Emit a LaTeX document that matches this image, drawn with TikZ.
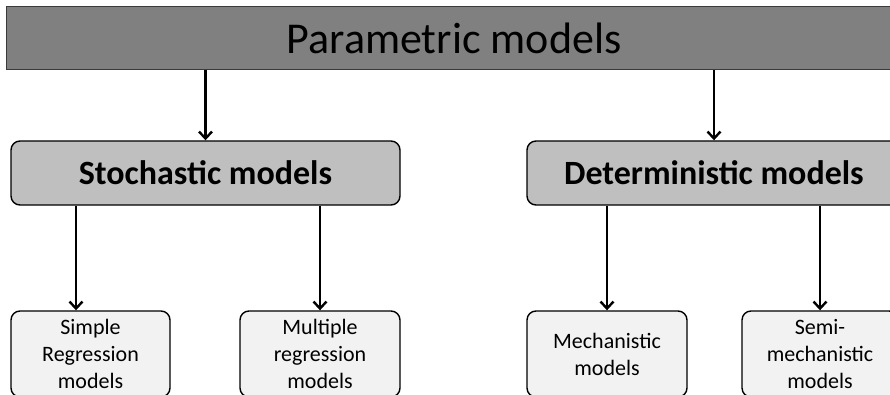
\documentclass[tikz,border=0pt]{standalone}
\usepackage{fontspec}
\setmainfont{Carlito}
\usepackage{xcolor}
\definecolor{topgray}{HTML}{808080}
\definecolor{midgray}{HTML}{BFBFBF}
\definecolor{leafgray}{HTML}{F2F2F2}
\definecolor{edgedark}{HTML}{3A3A3A}
\usepackage{tikz}
\usetikzlibrary{arrows.meta,calc}

\begin{document}
\begin{tikzpicture}[
  x=1pt, y=1pt,
  topbar/.style={
    draw=edgedark, line width=1pt, fill=topgray,
    minimum width=896pt, minimum height=63pt, inner sep=0pt,
    font=\fontsize{44}{50}\selectfont,
  },
  family/.style={
    draw=black, line width=1.4pt, rounded corners=9pt, fill=midgray,
    minimum height=64pt, inner sep=0pt,
    font=\fontsize{34}{40}\selectfont\bfseries,
  },
  leaf/.style={
    draw=black, line width=1.4pt, rounded corners=9pt, fill=leafgray,
    minimum width=160pt, minimum height=86pt, inner sep=0pt,
    align=center, font=\fontsize{22}{27}\selectfont,
  },
  link/.style={-{Straight Barb[length=7pt,width=13pt]}, line width=2.4pt},
]

% Frame: the figure is cut at the right and bottom edges
\useasboundingbox (0,0) rectangle (890,394);
\clip (0,0) rectangle (890,394);

% Top level
\node[topbar] (param) at (454,355.5) {Parametric models};

% Two families
\node[family, minimum width=389pt] (stoch)  at (205.5,221) {Stochastic models};
\node[family, minimum width=374pt] (determ) at (714,221)   {Deterministic models};

% Leaves
\node[leaf, minimum width=159pt] (simple) at (90.5,40) {Simple\\Regression\\models};
\node[leaf] (multiple) at (320,40) {Multiple\\regression\\models};
\node[leaf] (mech)     at (607,40) {Mechanistic\\models};
\node[leaf, minimum width=156pt] (semi) at (820,40) {Semi-\\mechanistic\\models};

% Connectors
\draw[link] (param.south -| stoch.north)  -- (stoch.north);
\draw[link] (param.south -| determ.north) -- (determ.north);

\coordinate (simpletop) at ([xshift=-14.5pt]simple.north);
\draw[link] (stoch.south -| simpletop) -- (simpletop);
\draw[link] (stoch.south -| multiple.north) -- (multiple.north);
\draw[link] (determ.south -| mech.north) -- (mech.north);
\draw[link] (determ.south -| semi.north) -- (semi.north);

\end{tikzpicture}
\end{document}
